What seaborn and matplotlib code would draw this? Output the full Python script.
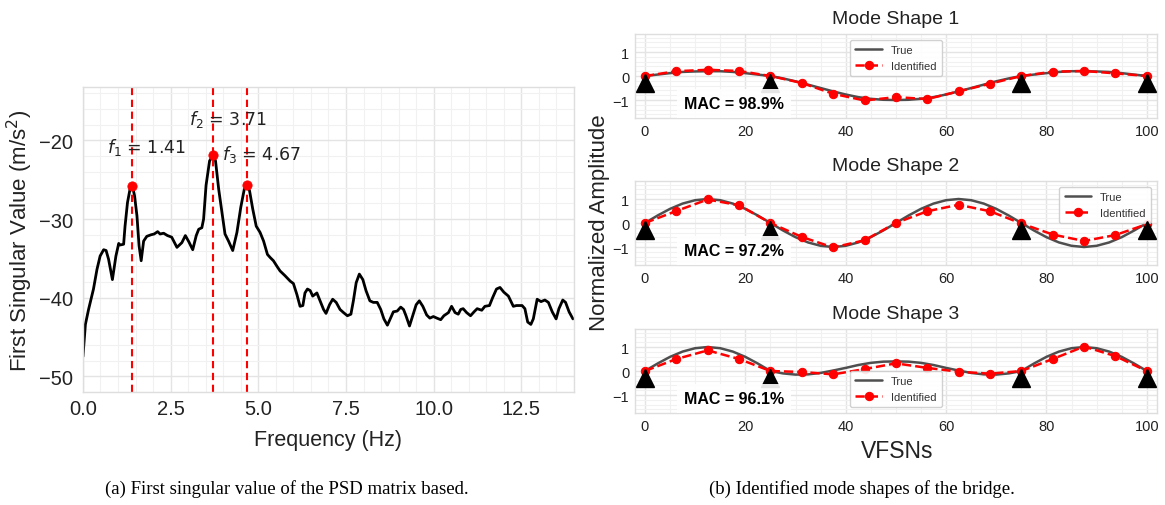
import matplotlib
matplotlib.use("Agg")
import matplotlib.pyplot as plt
from matplotlib.ticker import AutoMinorLocator, MultipleLocator
import seaborn as sns

# ---------------- data: (a) first singular value ----------------
freq = [0.00, 0.07, 0.16, 0.30, 0.40, 0.49, 0.59, 0.66, 0.73, 0.84, 0.94, 1.02, 1.06, 1.16,
        1.20, 1.27, 1.35, 1.41, 1.47, 1.54, 1.60, 1.66, 1.73, 1.82, 1.94, 2.03, 2.13, 2.20,
        2.30, 2.41, 2.53, 2.68, 2.82, 2.92, 3.02, 3.13, 3.23, 3.30, 3.39, 3.44, 3.51, 3.61,
        3.71, 3.78, 3.87, 3.96, 4.05, 4.15, 4.27, 4.39, 4.50, 4.60, 4.67, 4.75, 4.84, 4.94,
        5.05, 5.15, 5.26, 5.34, 5.43, 5.53, 5.62, 5.76, 5.91, 6.00, 6.10, 6.19, 6.27, 6.33,
        6.40, 6.48, 6.55, 6.67, 6.76, 6.86, 6.93, 7.03, 7.12, 7.22, 7.33, 7.43, 7.54, 7.64,
        7.71, 7.79, 7.88, 7.98, 8.07, 8.18, 8.28, 8.39, 8.49, 8.58, 8.68, 8.75, 8.85, 8.96,
        9.06, 9.14, 9.21, 9.31, 9.40, 9.50, 9.59, 9.69, 9.80, 9.89, 9.99, 10.09, 10.20, 10.29,
        10.42, 10.51, 10.61, 10.70, 10.77, 10.84, 10.94, 11.05, 11.15, 11.24, 11.37, 11.46,
        11.59, 11.68, 11.79, 11.89, 12.00, 12.13, 12.27, 12.36, 12.52, 12.60, 12.68, 12.77,
        12.84, 12.95, 13.06, 13.17, 13.27, 13.38, 13.49, 13.57, 13.68, 13.76, 13.86, 13.97]
sv_db = [-47.5, -43.4, -41.5, -38.9, -36.4, -34.7, -33.9, -34.0, -35.1, -37.7, -34.7, -33.1, -33.3, -33.2,
         -30.9, -27.9, -26.0, -25.8, -27.0, -29.6, -33.4, -35.3, -32.8, -32.2, -32.0, -31.9, -31.6, -31.9,
         -31.8, -32.1, -32.3, -33.6, -33.0, -32.1, -32.9, -33.9, -32.1, -31.3, -31.1, -30.0, -25.7, -22.6,
         -21.9, -22.6, -26.2, -29.1, -31.9, -32.8, -34.0, -31.7, -28.5, -26.2, -25.7, -26.4, -28.7, -30.9,
         -31.7, -32.8, -34.5, -34.9, -35.3, -36.0, -36.6, -37.2, -37.9, -38.2, -39.6, -41.1, -41.0, -39.4,
         -38.9, -39.1, -39.8, -39.4, -40.4, -41.5, -42.0, -40.9, -40.2, -40.6, -41.5, -41.9, -42.3, -42.1,
         -40.4, -38.1, -37.0, -37.7, -39.1, -40.4, -40.6, -40.6, -41.5, -42.7, -43.5, -42.8, -41.8, -41.7,
         -41.2, -41.5, -42.3, -43.6, -42.3, -40.9, -40.4, -41.1, -42.2, -42.6, -42.4, -42.6, -42.8, -42.3,
         -41.9, -41.1, -41.9, -42.1, -41.5, -41.4, -41.9, -42.3, -41.8, -41.4, -41.6, -41.1,
         -41.0, -40.0, -38.9, -38.7, -39.3, -39.8, -41.1, -41.0, -41.0, -41.4, -43.1, -43.4,
         -42.7, -40.2, -40.5, -40.3, -40.6, -41.8, -42.7, -41.4, -40.3, -40.6, -41.8, -42.7]

peak_names = ["f_1", "f_2", "f_3"]
peak_freq = [1.41, 3.71, 4.67]
peak_val = [-25.8, -21.9, -25.7]

# ---------------- data: (b) mode shapes ----------------
vfsn_true = [0, 2.5, 5, 7.5, 10, 12.5, 15, 17.5, 20, 22.5, 25, 27.5, 30, 32.5, 35, 37.5, 40,
             42.5, 45, 47.5, 50, 52.5, 55, 57.5, 60, 62.5, 65, 67.5, 70, 72.5, 75, 77.5, 80,
             82.5, 85, 87.5, 90, 92.5, 95, 97.5, 100]
true_1 = [0, .06, .12, .17, .19, .2, .2, .17, .12, .06, 0,
          -.1, -.22, -.36, -.5, -.64, -.77, -.88, -.95, -.99, -1, -.99, -.95, -.88, -.77, -.64, -.5, -.36, -.22, -.1,
          0, .06, .12, .17, .2, .2, .19, .17, .12, .06, 0]
true_2 = [0, .31, .59, .81, .95, 1, .95, .81, .59, .31, 0,
          -.31, -.59, -.81, -.95, -1, -.95, -.81, -.59, -.31, 0, .31, .59, .81, .95, 1, .95, .81, .59, .31,
          0, -.31, -.59, -.81, -.95, -1, -.95, -.81, -.59, -.31, 0]
true_3 = [0, .31, .59, .81, .95, 1, .95, .81, .59, .31, 0,
          -.1, -.15, -.14, -.08, .02, .13, .25, .34, .39, .4, .39, .34, .25, .13, .02, -.08, -.14, -.15, -.1,
          0, .31, .59, .81, .95, 1, .95, .81, .59, .31, 0]

vfsn_id = [0, 6.25, 12.5, 18.75, 25, 31.25, 37.5, 43.75, 50, 56.25, 62.5, 68.75, 75, 81.25, 87.5, 93.75, 100]
ident_1 = [0, .2, .26, .21, 0, -.29, -.74, -1.02, -.88, -.96, -.64, -.32, 0, .18, .21, .11, 0]
ident_2 = [0, .5, .98, .74, 0, -.58, -1.02, -.72, 0, .49, .76, .49, -.02, -.48, -.75, -.5, -.05]
ident_3 = [0, .5, .86, .5, 0, -.04, -.14, .08, .32, .13, -.03, -.11, 0, .5, 1.02, .62, 0]

supports = [0, 25, 75, 100]
support_y = [-0.31, -0.31, -0.31, -0.31]

mode_titles = ["Mode Shape 1", "Mode Shape 2", "Mode Shape 3"]
mac_values = [98.9, 97.2, 96.1]
legend_locs = ["upper center", "upper right", "lower center"]

# ---------------- style ----------------
sns.set_style("whitegrid")
plt.rcParams["font.family"] = ["Liberation Sans", "DejaVu Sans"]
plt.rcParams["mathtext.fontset"] = "dejavusans"

MAJ = "#e4e4e4"
MIN = "#f1f1f1"
SPINE = "#dedede"
TXT = "#222222"


def style_axes(ax, labelsize, pad=4):
    ax.xaxis.set_minor_locator(AutoMinorLocator())
    ax.yaxis.set_minor_locator(AutoMinorLocator())
    ax.grid(which="major", color=MAJ, lw=1.0)
    ax.grid(which="minor", color=MIN, lw=0.8)
    ax.set_axisbelow(True)
    for s in ax.spines.values():
        s.set_color(SPINE)
        s.set_linewidth(1.0)
    ax.tick_params(which="both", length=0, labelsize=labelsize, colors=TXT, pad=pad)


fig = plt.figure(figsize=(11.65, 5.06), dpi=100)

# ---------------- (a) ----------------
axA = fig.add_axes([0.0712, 0.2233, 0.4215, 0.6028])
sns.lineplot(x=freq, y=sv_db, ax=axA, color="black", lw=2.0, estimator=None, sort=False)
for f in peak_freq:
    axA.axvline(f, color="red", ls=(0, (3.5, 2.2)), lw=1.5, zorder=1)
sns.scatterplot(x=peak_freq, y=peak_val, ax=axA, color="red", s=45, edgecolor="red", zorder=5)
text_dy = [5.05, 4.7, 4.0]
for name, f, v, dy in zip(peak_names, peak_freq, peak_val, text_dy):
    axA.text(f + 0.41, v + dy, f"${name}$ = {f:.2f}", ha="center", va="center",
             fontsize=12.5, family="DejaVu Sans", color=TXT)
axA.set_xlim(0, 14)
axA.set_ylim(-52, -13.2)
axA.xaxis.set_major_locator(MultipleLocator(2.5))
axA.yaxis.set_major_locator(MultipleLocator(10))
style_axes(axA, 14.5, pad=7)
axA.tick_params(axis="x", pad=5)
axA.set_xlabel("Frequency (Hz)", fontsize=15.5, color=TXT, labelpad=8)
axA.set_ylabel("First Singular Value (m/s$^2$)", fontsize=16, color=TXT, labelpad=3)

# ---------------- (b) ----------------
bottoms = [0.7648, 0.4743, 0.1818]
trues = [true_1, true_2, true_3]
idents = [ident_1, ident_2, ident_3]
for i in range(3):
    ax = fig.add_axes([0.545, bottoms[i], 0.4480, 0.166])
    sns.lineplot(x=vfsn_true, y=trues[i], ax=ax, color="#3c3c3c", lw=1.8, label="True",
                 estimator=None, sort=False, alpha=0.9)
    sns.lineplot(x=vfsn_id, y=idents[i], ax=ax, color="red", lw=1.8, ls="--", marker="o",
                 markersize=6, markeredgecolor="red", label="Identified", estimator=None, sort=False)
    ax.plot(supports, support_y, ls="none", marker="^", markersize=12.5, color="black", zorder=6)
    ax.text(0.19, 0.175, f"MAC = {mac_values[i]}%", transform=ax.transAxes, ha="center",
            va="center", fontsize=11.5, fontweight="bold", color="black", zorder=7,
            bbox=dict(facecolor="white", edgecolor="none", pad=5, alpha=0.9))
    ax.set_xlim(-2, 102)
    ax.set_ylim(-1.75, 1.75)
    ax.xaxis.set_major_locator(MultipleLocator(20))
    ax.yaxis.set_major_locator(MultipleLocator(1))
    style_axes(ax, 10.5)
    ax.set_title(mode_titles[i], fontsize=14, color=TXT, pad=8)
    ax.set_xlabel("")
    ax.set_ylabel("")
    leg = ax.legend(loc=legend_locs[i], fontsize=8, frameon=True, framealpha=0.9,
                    edgecolor="#cccccc", handlelength=2.4, borderpad=0.5, labelspacing=0.5)
    for t in leg.get_texts():
        t.set_color("#333333")

fig.text(0.515, 0.560, "Normalized Amplitude", rotation=90, ha="center", va="center",
         fontsize=16, color=TXT)
fig.text(0.770, 0.107, "VFSNs", ha="center", va="center", fontsize=16.5, color=TXT)

# captions
fig.text(0.246, 0.033, "(a) First singular value of the PSD matrix based.", ha="center",
         va="center", fontsize=13.5, family=["Liberation Serif", "DejaVu Serif"], color="black")
fig.text(0.740, 0.033, "(b) Identified mode shapes of the bridge.", ha="center",
         va="center", fontsize=13.5, family=["Liberation Serif", "DejaVu Serif"], color="black")

fig.savefig("out.png", dpi=100, facecolor="white")
